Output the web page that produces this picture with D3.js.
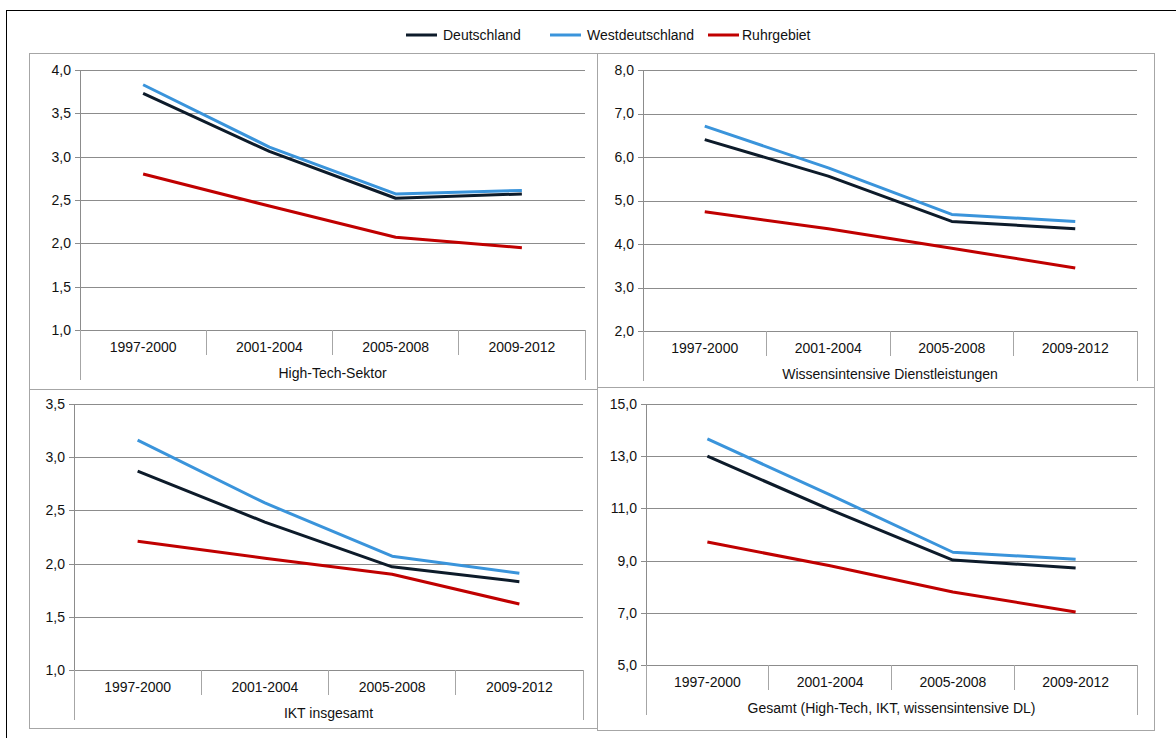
<!DOCTYPE html>
<html><head><meta charset="utf-8">
<script src="https://cdn.jsdelivr.net/npm/d3@7"></script>
<style>
html,body{margin:0;padding:0;background:#fff;}
svg{display:block;font-family:"Liberation Sans",Arial,sans-serif;}
</style></head>
<body>
<svg id="chart" width="1176" height="738"></svg>
<script>
const categories = ["1997-2000","2001-2004","2005-2008","2009-2012"];
const seriesNames = ["Deutschland","Westdeutschland","Ruhrgebiet"];
const seriesColors = ["#0d1b2a","#3a94db","#c00000"];

const panelTitles = ["High-Tech-Sektor","Wissensintensive Dienstleistungen","IKT insgesamt","Gesamt (High-Tech, IKT, wissensintensive DL)"];

// values per panel: [Deutschland, Westdeutschland, Ruhrgebiet]
const htDeutschland = [3.73, 3.06, 2.52, 2.57];
const htWest        = [3.83, 3.11, 2.57, 2.61];
const htRuhr        = [2.80, 2.43, 2.07, 1.95];

const wdDeutschland = [6.40, 5.56, 4.52, 4.35];
const wdWest        = [6.71, 5.75, 4.68, 4.52];
const wdRuhr        = [4.74, 4.35, 3.90, 3.45];

const iktDeutschland = [2.87, 2.39, 1.97, 1.83];
const iktWest        = [3.16, 2.57, 2.07, 1.91];
const iktRuhr        = [2.21, 2.05, 1.90, 1.62];

const gesDeutschland = [13.0, 10.95, 9.02, 8.72];
const gesWest        = [13.66, 11.52, 9.32, 9.05];
const gesRuhr        = [9.71, 8.80, 7.80, 7.03];

const htTicks  = [1.0,1.5,2.0,2.5,3.0,3.5,4.0];
const wdTicks  = [2.0,3.0,4.0,5.0,6.0,7.0,8.0];
const iktTicks = [1.0,1.5,2.0,2.5,3.0,3.5];
const gesTicks = [5.0,7.0,9.0,11.0,13.0,15.0];

const panels = [
  {box:[29,53,597,389], x0:80, x1:585, yTop:70, yBot:330, ticks:htTicks, data:[htDeutschland,htWest,htRuhr], title:panelTitles[0]},
  {box:[597,53,1154,387], x0:643, x1:1137, yTop:70, yBot:331, ticks:wdTicks, data:[wdDeutschland,wdWest,wdRuhr], title:panelTitles[1]},
  {box:[29,389,597,728], x0:74, x1:583, yTop:404, yBot:670, ticks:iktTicks, data:[iktDeutschland,iktWest,iktRuhr], title:panelTitles[2]},
  {box:[597,387,1154,730], x0:646, x1:1137, yTop:404, yBot:665, ticks:gesTicks, data:[gesDeutschland,gesWest,gesRuhr], title:panelTitles[3]}
];

const FS = 14;
const svg = d3.select("#chart");
const fmt = v => d3.format(".1f")(v).replace(".", ",");

// outer frame
svg.append("rect").attr("x",6.5).attr("y",10.5).attr("width",1300).attr("height",900)
  .attr("fill","none").attr("stroke","#000").attr("stroke-width",1);

// legend
const legendPos = [[406,443],[550,587],[708,742]];
seriesNames.forEach((n,i)=>{
  const [lx,tx] = legendPos[i];
  svg.append("line").attr("x1",lx).attr("x2",lx+31).attr("y1",35).attr("y2",35)
    .attr("stroke",seriesColors[i]).attr("stroke-width",3);
  svg.append("text").attr("x",tx).attr("y",35).attr("dy","0.35em")
    .attr("font-size",FS).attr("fill","#111").text(n);
});

panels.forEach(p=>{
  const [bx0,by0,bx1,by1] = p.box;
  svg.append("rect").attr("x",bx0+0.5).attr("y",by0+0.5).attr("width",bx1-bx0).attr("height",by1-by0)
    .attr("fill","none").attr("stroke","#a6a6a6").attr("stroke-width",1);

  const y = d3.scaleLinear().domain([d3.min(p.ticks),d3.max(p.ticks)]).range([p.yBot,p.yTop]);
  const x = d3.scaleBand().domain(categories).range([p.x0,p.x1]);

  // gridlines + y axis
  const yAxis = d3.axisLeft(y).tickValues(p.ticks).tickFormat(fmt)
    .tickSize(-(p.x1-p.x0)).tickPadding(9);
  const gy = svg.append("g").attr("transform",`translate(${p.x0},0)`).call(yAxis);
  gy.select(".domain").remove();
  gy.selectAll(".tick line").attr("stroke","#8c8c8c").attr("x1",-5).attr("shape-rendering","crispEdges");
  gy.selectAll(".tick text").attr("font-size",FS).attr("fill","#111").attr("font-family","Liberation Sans, Arial, sans-serif");

  // y axis vertical line
  svg.append("line").attr("x1",p.x0).attr("x2",p.x0).attr("y1",p.yTop).attr("y2",p.yBot)
    .attr("stroke","#8c8c8c").attr("shape-rendering","crispEdges");

  // category separators
  const seps = categories.map(c=>x(c)).concat([p.x1]);
  seps.forEach((sx,i)=>{
    const long = (i===0 || i===seps.length-1);
    svg.append("line").attr("x1",sx).attr("x2",sx).attr("y1",p.yBot).attr("y2",p.yBot+(long?50:25))
      .attr("stroke","#a6a6a6").attr("shape-rendering","crispEdges");
  });
  categories.forEach(c=>{
    svg.append("text").attr("x",x(c)+x.bandwidth()/2).attr("y",p.yBot+17).attr("dy","0.35em")
      .attr("text-anchor","middle").attr("font-size",FS).attr("fill","#111").text(c);
  });
  svg.append("text").attr("x",(p.x0+p.x1)/2).attr("y",p.yBot+43).attr("dy","0.35em")
    .attr("text-anchor","middle").attr("font-size",FS).attr("fill","#111").text(p.title);

  // lines
  const line = d3.line().x((d,i)=>x(categories[i])+x.bandwidth()/2).y(d=>y(d));
  p.data.forEach((vals,i)=>{
    svg.append("path").datum(vals).attr("d",line).attr("fill","none")
      .attr("stroke",seriesColors[i]).attr("stroke-width",3).attr("stroke-linejoin","round");
  });
});
</script>
</body></html>
